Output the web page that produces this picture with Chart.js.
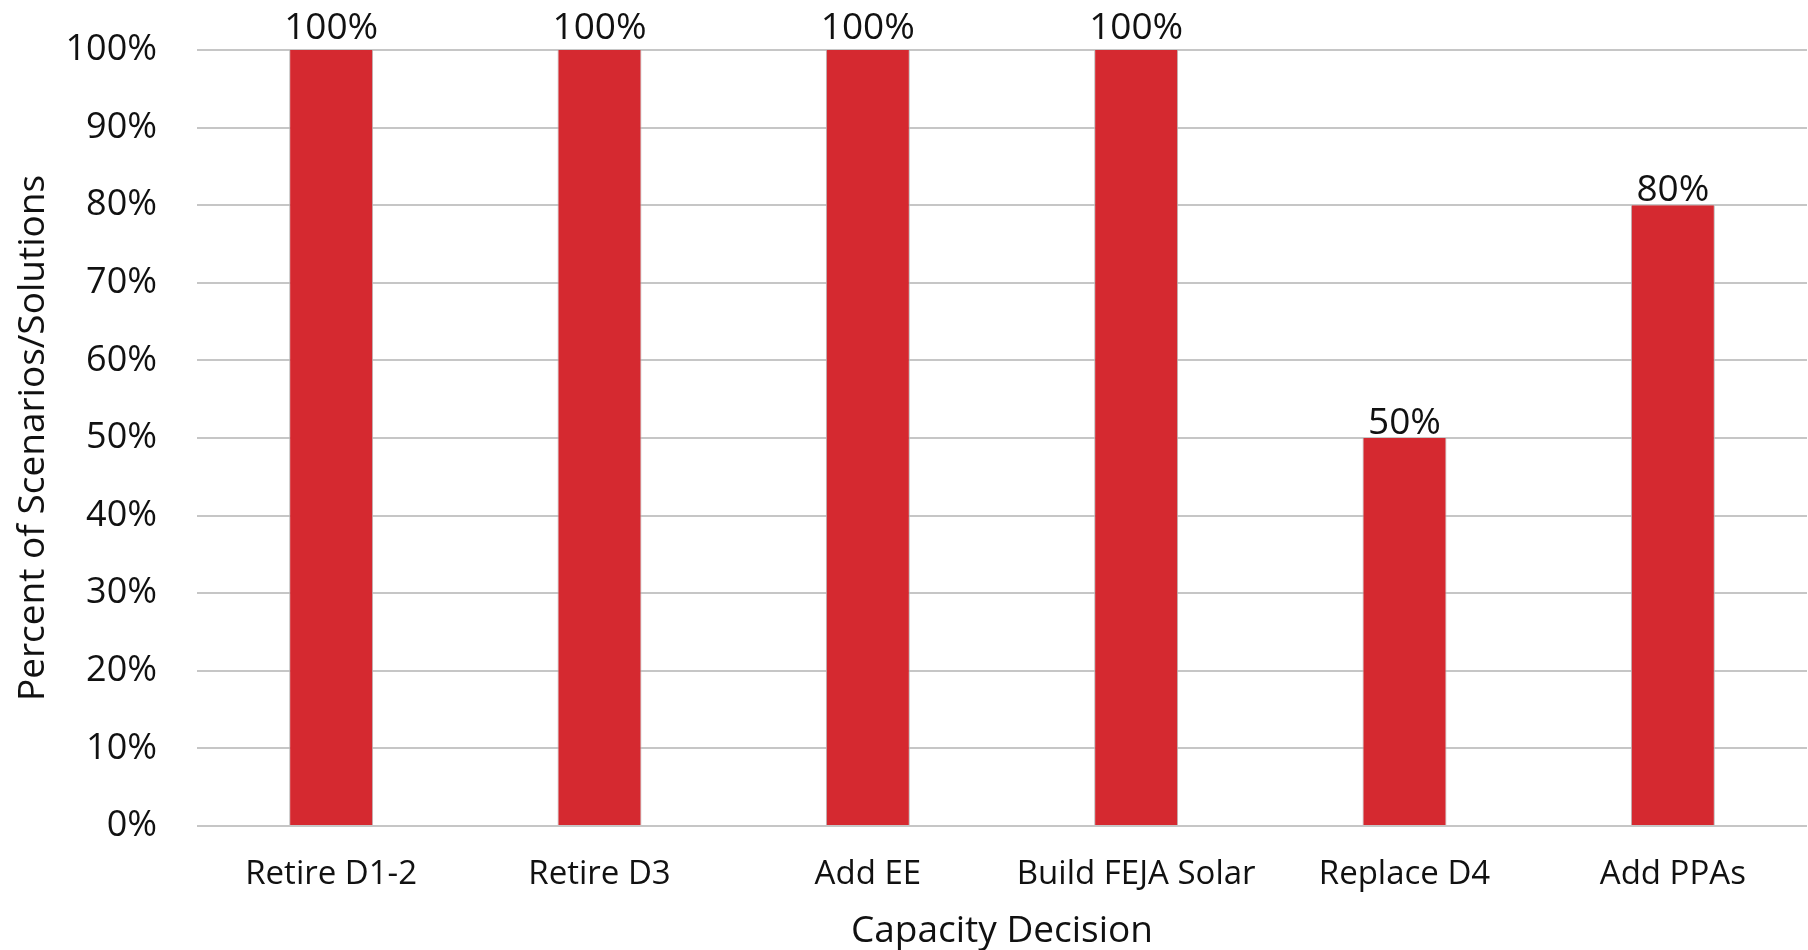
<!DOCTYPE html>
<html>
<head>
<meta charset="utf-8">
<script src="https://cdn.jsdelivr.net/npm/chart.js@4/dist/chart.umd.min.js"></script>
<style>
html,body{margin:0;padding:0;background:#fff;}
#wrap{width:1808px;height:950px;}
</style>
</head>
<body>
<div id="wrap"><canvas id="c" width="1808" height="950"></canvas></div>
<script>
const categories = ["Retire D1-2", "Retire D3", "Add EE", "Build FEJA Solar", "Replace D4", "Add PPAs"];
const percentValues = [100, 100, 100, 100, 50, 80];
const yTickValues = [0, 10, 20, 30, 40, 50, 60, 70, 80, 90, 100];
const xAxisTitle = "Capacity Decision";
const yAxisTitle = "Percent of Scenarios/Solutions";

const FONT = "'Open Sans', 'Noto Sans', sans-serif";
const barRed = "rgb(213,41,48)";

const valueLabels = {
  id: 'valueLabels',
  afterDatasetsDraw(chart) {
    const ctx = chart.ctx;
    const meta = chart.getDatasetMeta(0);
    const yMax = chart.scales.y.max;
    ctx.save();
    ctx.font = "37px " + FONT;
    ctx.fillStyle = "#111";
    ctx.textAlign = "center";
    ctx.textBaseline = "alphabetic";
    meta.data.forEach((bar, i) => {
      const gap = percentValues[i] >= yMax ? 11 : 4;
      ctx.fillText(percentValues[i] + "%", bar.x, bar.y - gap);
    });
    ctx.restore();
  }
};

new Chart(document.getElementById('c'), {
  type: 'bar',
  data: {
    labels: categories,
    datasets: [{
      data: percentValues,
      backgroundColor: barRed,
      borderColor: "#b9b9b9",
      borderWidth: {left: 1, right: 1, top: 0, bottom: 0},
      categoryPercentage: 1.0,
      barPercentage: 0.313
    }]
  },
  options: {
    responsive: false,
    animation: false,
    devicePixelRatio: 1,
    layout: {padding: {top: 50, right: 1, left: 0, bottom: 0}},
    plugins: {legend: {display: false}, tooltip: {enabled: false}},
    scales: {
      x: {
        grid: {display: false, drawTicks: false},
        border: {display: false},
        ticks: {color: "#111", font: {family: FONT, size: 33}, padding: 29, maxRotation: 0, autoSkip: false},
        title: {display: true, text: xAxisTitle, color: "#111", font: {family: FONT, size: 37, lineHeight: 1.0}, padding: {top: 0, bottom: 0}},
        afterFit(scale) { scale.height = 124; }
      },
      y: {
        min: 0, max: 100,
        afterBuildTicks(scale) { scale.ticks = yTickValues.map(v => ({value: v})); },
        grid: {color: "#c6c6c6", lineWidth: 2, drawTicks: true, tickLength: 40, tickColor: "rgba(0,0,0,0)"},
        border: {display: false},
        ticks: {color: "#111", font: {family: FONT, size: 36}, padding: 0, callback: v => v + "%"},
        title: {display: true, text: yAxisTitle, color: "#111", font: {family: FONT, size: 37}, padding: {top: 11, bottom: 0}},
        afterFit(scale) { scale.width = 197; }
      }
    }
  },
  plugins: [valueLabels]
});
</script>
</body>
</html>
